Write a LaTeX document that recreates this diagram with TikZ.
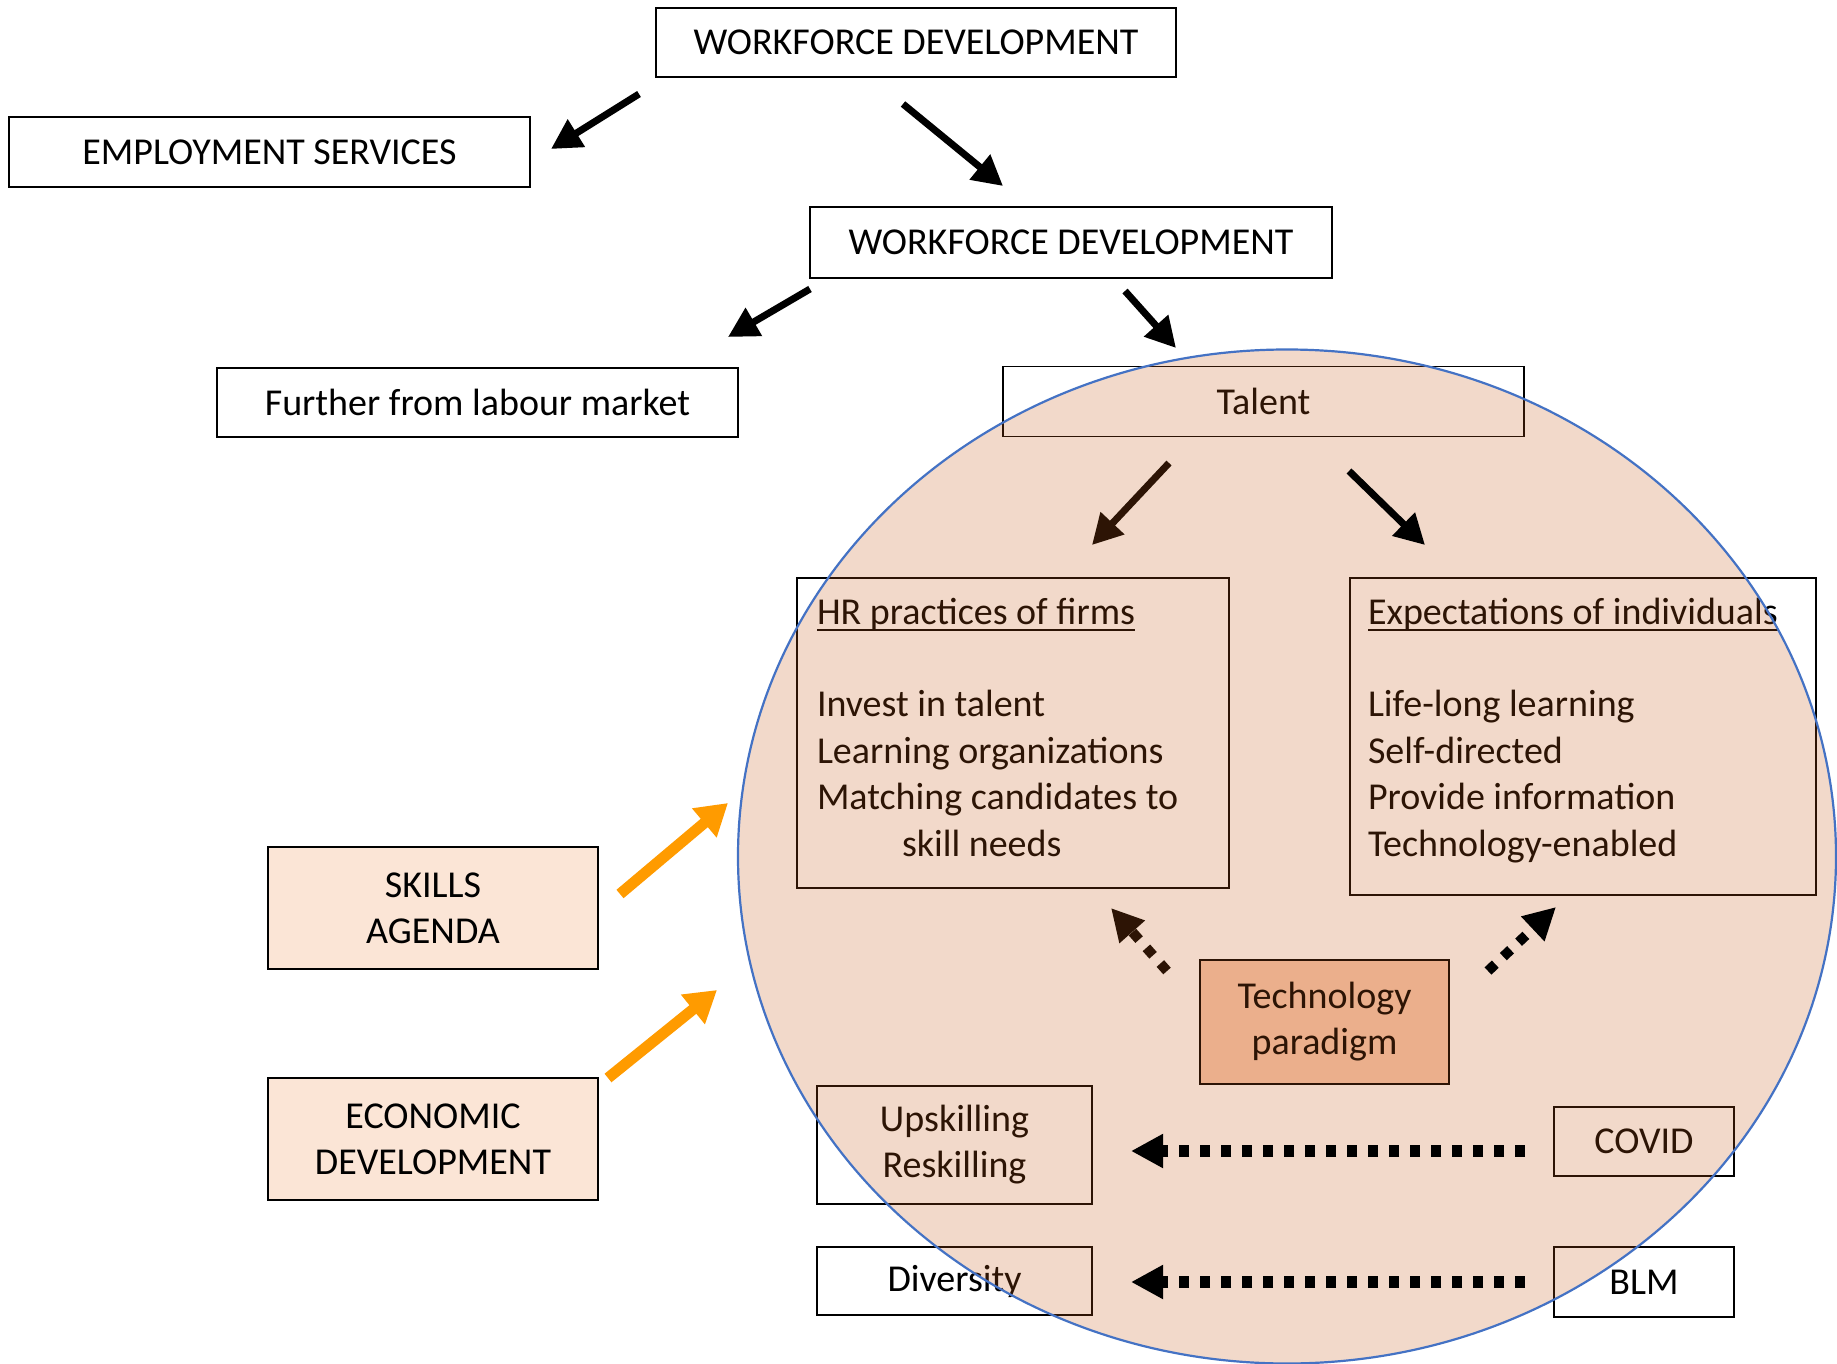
\documentclass[tikz,border=0pt]{standalone}
\usepackage{fontspec}
\setmainfont{Carlito}
\usetikzlibrary{arrows.meta}
\definecolor{ovl}{RGB}{198,92,22}
\definecolor{lightbox}{RGB}{251,229,214}
\definecolor{techfill}{RGB}{246,200,175}
\definecolor{orarrow}{RGB}{255,155,0}
\definecolor{eborder}{RGB}{68,114,196}
\begin{document}
\begin{tikzpicture}[x=1pt,y=-1pt,
  every node/.style={font=\fontsize{38}{46}\selectfont, inner sep=0pt, outer sep=0pt},
  box/.style={draw=black, line width=1.8pt, align=center},
  listtext/.style={anchor=base west},
  solidarrow/.style={line width=7pt, -{Triangle[length=30pt,width=31pt]}},
  orangearrow/.style={draw=orarrow, line width=11pt, -{Triangle[length=31pt,width=36pt]}},
  dotdiag/.style={line width=10pt, dash pattern=on 10pt off 11pt, -{Triangle[length=32pt,width=32pt]}},
  dothoriz/.style={line width=12pt, dash pattern=on 10pt off 11pt, -{Triangle[length=32pt,width=32pt]}}
]
\useasboundingbox (0,0) rectangle (1837,1364);
\fill[white] (0,0) rectangle (1837,1364);

% boxes
\node[box, minimum width=520pt, minimum height=69pt] (wd1) at (916,42.5) {WORKFORCE DEVELOPMENT};
\node[box, minimum width=521pt, minimum height=70pt] (es) at (269.5,152) {EMPLOYMENT SERVICES};
\node[box, minimum width=522pt, minimum height=71pt] (wd2) at (1071,242.5) {WORKFORCE DEVELOPMENT};
\node[box, minimum width=521pt, minimum height=69pt] (ffl) at (477.5,402.5) {Further from labour market};
\node[box, minimum width=521pt, minimum height=70pt] (talent) at (1263.5,401.5) {Talent};
\node[box, minimum width=432pt, minimum height=310pt] (hr) at (1013,733) {};
\node[box, minimum width=466pt, minimum height=317pt] (exp) at (1583,736.5) {};
\node[box, fill=lightbox, minimum width=330pt, minimum height=122pt] (skills) at (433,908) {SKILLS\\AGENDA};
\node[box, fill=lightbox, minimum width=330pt, minimum height=122pt] (econ) at (433,1139) {ECONOMIC\\DEVELOPMENT};
\node[box, fill=techfill, minimum width=249pt, minimum height=124pt] (tech) at (1324.5,1022) {Technology\\paradigm};
\node[box, minimum width=275pt, minimum height=118pt] (ups) at (954.5,1145) {Upskilling\\Reskilling};
\node[box, minimum width=180pt, minimum height=69pt] (covid) at (1644,1141.5) {COVID};
\node[box, minimum width=275pt, minimum height=68pt] (div) at (954.5,1281) {Diversity};
\node[box, minimum width=180pt, minimum height=70pt] (blm) at (1644,1282) {BLM};

% list texts
\node[listtext] (hrt) at (817,624) {HR practices of firms};
\draw[line width=2pt] ([yshift=-6pt]hrt.base west) -- ([yshift=-6pt]hrt.base east);
\node[listtext] (hr1) at (817,716) {Invest in talent};
\node[listtext] (hr2) at (817,763) {Learning organizations};
\node[listtext] (hr3) at (817,809) {Matching candidates to};
\node[listtext] (hr4) at (902,856) {skill needs};
\node[listtext] (ext) at (1368,624) {Expectations of individuals};
\draw[line width=2pt] ([yshift=-6pt]ext.base west) -- ([yshift=-6pt]ext.base east);
\node[listtext] (ex1) at (1368,716) {Life-long learning};
\node[listtext] (ex2) at (1368,763) {Self-directed};
\node[listtext] (ex3) at (1368,809) {Provide information};
\node[listtext] (ex4) at (1368,856) {Technology-enabled};

% arrow end points
\coordinate (a1s) at (639,94);   \coordinate (a1e) at (551,149);
\coordinate (a2s) at (903,104);  \coordinate (a2e) at (1003,186);
\coordinate (a3s) at (810,289);  \coordinate (a3e) at (728,337);
\coordinate (a4s) at (1125,291); \coordinate (a4e) at (1176,348);
\coordinate (a5s) at (1169,463); \coordinate (a5e) at (1092,545);
\coordinate (a6s) at (1349,471); \coordinate (a6e) at (1425,545);
\coordinate (o1s) at (620,894);  \coordinate (o1e) at (728,803);
\coordinate (o2s) at (608,1078); \coordinate (o2e) at (717,990);
\coordinate (d1s) at (1167,971); \coordinate (d1e) at (1111,908);
\coordinate (d2s) at (1488,971); \coordinate (d2e) at (1556,907);
\coordinate (d3s) at (1525,1151); \coordinate (d3e) at (1131,1151);
\coordinate (d4s) at (1525,1282); \coordinate (d4e) at (1131,1282);

% arrows under the tint
\draw[solidarrow] (a5s) -- (a5e);
\draw[dotdiag] (d1s) -- (d1e);

% ellipse
\fill[ovl, fill opacity=0.227] (1287,856.5) ellipse [x radius=549pt, y radius=507pt];
\draw[eborder, line width=2.2pt] (1287,856.5) ellipse [x radius=549pt, y radius=507pt];

% arrows over the tint
\draw[solidarrow] (a1s) -- (a1e);
\draw[solidarrow] (a2s) -- (a2e);
\draw[solidarrow] (a3s) -- (a3e);
\draw[solidarrow] (a4s) -- (a4e);
\draw[solidarrow] (a6s) -- (a6e);
\draw[orangearrow] (o1s) -- (o1e);
\draw[orangearrow] (o2s) -- (o2e);
\draw[dotdiag] (d2s) -- (d2e);
\draw[dothoriz] (d3s) -- (d3e);
\draw[dothoriz] (d4s) -- (d4e);
\end{tikzpicture}
\end{document}
